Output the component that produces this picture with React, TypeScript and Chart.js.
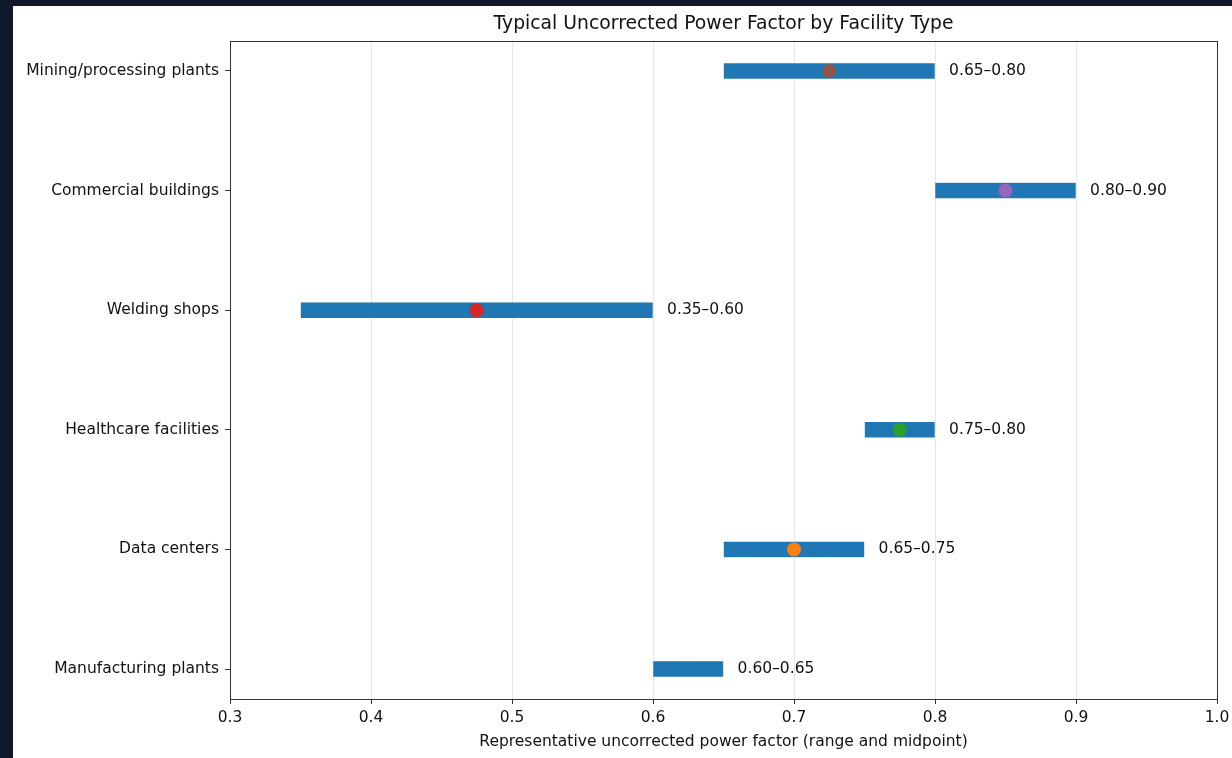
import React, { useEffect, useRef } from "react";
import { Chart, registerables } from "chart.js";

Chart.register(...registerables);

// Bottom-to-top order (index 0 at the bottom of the axis)
const facilities = [
  "Manufacturing plants",
  "Data centers",
  "Healthcare facilities",
  "Welding shops",
  "Commercial buildings",
  "Mining/processing plants",
];
const rangeLow = [0.6, 0.65, 0.75, 0.35, 0.8, 0.65];
const rangeHigh = [0.65, 0.75, 0.8, 0.6, 0.9, 0.8];
const midpoints = [0.625, 0.7, 0.775, 0.475, 0.85, 0.725];
const rangeLabels = ["0.60–0.65", "0.65–0.75", "0.75–0.80", "0.35–0.60", "0.80–0.90", "0.65–0.80"];
const xTickValues = [0.3, 0.4, 0.5, 0.6, 0.7, 0.8, 0.9, 1.0];
const dotColors = ["#1f77b4", "#ff7f0e", "#2ca02c", "#d62728", "#9467bd", "#8c564b"];
const chartTitle = "Typical Uncorrected Power Factor by Facility Type";
const xAxisTitle = "Representative uncorrected power factor (range and midpoint)";

const FONT = "'DejaVu Sans', sans-serif";
const SMALL = 15.5;

const framePlugin = {
  id: "frameAndLabels",
  afterDatasetsDraw(chart: any) {
    const { ctx, chartArea, scales } = chart;
    ctx.save();
    ctx.strokeStyle = "#333";
    ctx.lineWidth = 1;
    ctx.strokeRect(
      Math.round(chartArea.left) + 0.5,
      Math.round(chartArea.top) + 0.5,
      Math.round(chartArea.right - chartArea.left),
      Math.round(chartArea.bottom - chartArea.top)
    );
    ctx.fillStyle = "#111";
    ctx.font = `${SMALL}px ${FONT}`;
    ctx.textAlign = "left";
    ctx.textBaseline = "middle";
    rangeLabels.forEach((lab, i) => {
      const x = scales.x.getPixelForValue(rangeHigh[i] + 0.01);
      const y = scales.y.getPixelForValue(i);
      ctx.fillText(lab, x, y);
    });
    // title centred over the plot area
    ctx.font = `18.8px ${FONT}`;
    ctx.textAlign = "center";
    ctx.textBaseline = "middle";
    ctx.fillText(chartTitle, (chartArea.left + chartArea.right) / 2, chartArea.top - 16.5);
    ctx.restore();
  },
};

export default function App() {
  const ref = useRef<HTMLCanvasElement | null>(null);

  useEffect(() => {
    if (!ref.current) return;
    const chart = new Chart(ref.current, {
      type: "bar",
      data: {
        datasets: [
          {
            type: "line",
            data: midpoints.map((m, i) => ({ x: m, y: i })),
            showLine: false,
            pointRadius: 7,
            pointHoverRadius: 7,
            pointBorderWidth: 0,
            pointBackgroundColor: dotColors,
            pointBorderColor: dotColors,
            order: 0,
          } as any,
          {
            type: "bar",
            data: rangeLow.map((lo, i) => ({ x: [lo, rangeHigh[i]], y: i })),
            backgroundColor: "#1f77b4",
            borderColor: "rgba(255,255,255,0.45)",
            borderWidth: 0.6,
            borderSkipped: false,
            barThickness: 16,
            order: 1,
          } as any,
        ],
      },
      options: {
        indexAxis: "y",
        responsive: false,
        animation: false,
        layout: { padding: { left: 0, right: 46, top: 35, bottom: 0 } },
        plugins: {
          legend: { display: false },
          tooltip: { enabled: false },
          title: { display: false },
        },
        scales: {
          x: {
            type: "linear",
            min: 0.3,
            max: 1.0,
            offset: false,
            afterBuildTicks: (scale: any) => {
              scale.ticks = xTickValues.map((v) => ({ value: v }));
            },
            afterFit: (scale: any) => {
              scale.height = 59;
            },
            ticks: {
              color: "#111",
              font: { family: FONT, size: SMALL },
              padding: 5,
              maxRotation: 0,
              callback: (v: any) => Number(v).toFixed(1),
            },
            grid: {
              color: "#e6e6e6",
              lineWidth: 1,
              tickColor: "#333",
              tickLength: 5,
              offset: false,
            },
            border: { display: true, color: "#333", width: 1 },
            title: {
              display: true,
              text: xAxisTitle,
              color: "#111",
              font: { family: FONT, size: SMALL },
              padding: { top: 4, bottom: 7 },
            },
          },
          y: {
            type: "linear",
            min: -0.25,
            max: 5.25,
            offset: false,
            afterBuildTicks: (scale: any) => {
              scale.ticks = facilities.map((_, i) => ({ value: i }));
            },
            afterFit: (scale: any) => {
              scale.width = 217;
            },
            ticks: {
              color: "#111",
              font: { family: FONT, size: SMALL },
              padding: 6,
              callback: (v: any) => facilities[Math.round(Number(v))] ?? "",
            },
            grid: {
              drawOnChartArea: false,
              tickColor: "#333",
              tickLength: 5,
              offset: false,
            },
            border: { display: true, color: "#333", width: 1 },
          },
        },
      } as any,
      plugins: [framePlugin],
    });
    return () => chart.destroy();
  }, []);

  return (
    <div
      style={{
        position: "fixed",
        left: 0,
        top: 0,
        width: "100vw",
        height: "100vh",
        overflow: "hidden",
        background: "#0f172a",
      }}
    >
      <div
        style={{
          position: "absolute",
          left: 13,
          top: 6,
          width: 1250,
          height: 752,
          background: "#ffffff",
        }}
      >
        <canvas ref={ref} width={1250} height={752} style={{ display: "block" }} />
      </div>
    </div>
  );
}
